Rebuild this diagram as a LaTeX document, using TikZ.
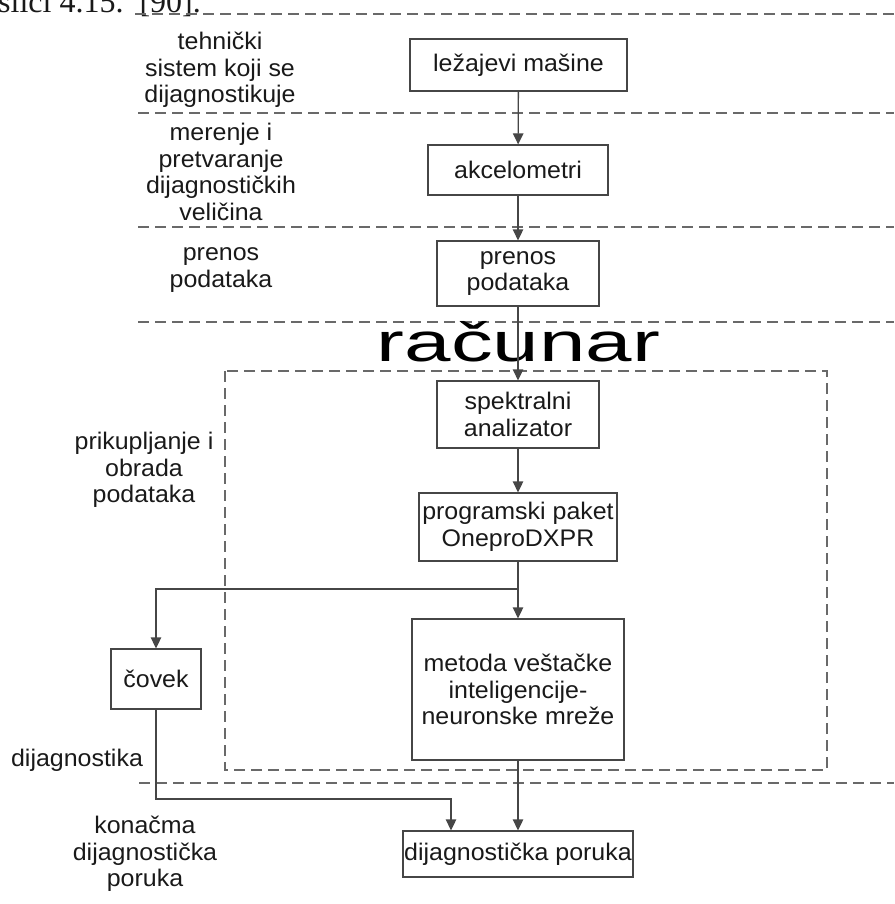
\documentclass[tikz,border=0pt]{standalone}
\usepackage{fontspec}
\setmainfont{Liberation Sans}[FakeStretch=1.04]
\newfontfamily\capfont{Liberation Serif}
\usetikzlibrary{arrows.meta}
\definecolor{ink}{RGB}{25,25,25}
\definecolor{frame}{RGB}{70,70,70}
\definecolor{guide}{RGB}{105,105,105}
\begin{document}
\begin{tikzpicture}[x=1pt,y=-1pt,
  every node/.style={font=\fontsize{24}{26.5}\selectfont, text=ink, align=center, inner sep=0pt},
  stage/.style={draw=frame, line width=1.3pt},
  flow/.style={draw=frame, line width=1.3pt, -{Triangle[length=11pt,width=10.5pt]}},
  link/.style={draw=frame, line width=1.3pt},
  sep/.style={draw=guide, line width=1.4pt, dash pattern=on 11pt off 6pt},
]
\useasboundingbox (0,0) rectangle (894,904);
\clip (0,0) rectangle (894,904);

% running text of the page above the figure
\node[anchor=base west, font=\capfont\fontsize{32}{32}\selectfont] (cap) at (-2,13) {slici 4.15.\ \ [90].};

% level separators
\draw[sep] (135,14) -- (894,14);
\draw[sep] (138,113) -- (894,113);
\draw[sep] (138,227) -- (894,227);
\draw[sep] (138,322) -- (894,322);
\draw[sep] (139,783) -- (894,783);
% computer boundary
\draw[sep] (225,371) rectangle (827,770);

% level labels
\node (l1) at (220,70) {tehnički\\sistem koji se\\dijagnostikuje};
\node (l2) at (221,172) {merenje i\\pretvaranje\\dijagnostičkih\\veličina};
\node (l3) at (221,270) {prenos\\podataka};
\node (l4) at (144,470) {prikupljanje i\\obrada\\podataka};
\node (l5) at (77,760) {dijagnostika};
\node (l6) at (145,854) {konačma\\dijagnostička\\poruka};

\node[anchor=base, font=\fontsize{55}{55}\selectfont, text=black] (pc) at (518.5,361) {\scalebox{1.46}[1]{računar}};

% stages
\node[stage, minimum width=217pt, minimum height=52pt] (b1) at (518.5,65) {ležajevi mašine};
\node[stage, minimum width=180pt, minimum height=50pt] (b2) at (518,170) {akcelometri};
\node[stage, minimum width=162pt, minimum height=65pt] (b3) at (518,273.5) {prenos\\podataka};
\node[stage, minimum width=162pt, minimum height=67pt] (b4) at (518,414.5) {spektralni\\analizator};
\node[stage, minimum width=198pt, minimum height=68pt] (b5) at (518,527) {programski paket\\OneproDXPR};
\node[stage, minimum width=212pt, minimum height=141pt] (b6) at (518,689.5) {metoda veštačke\\inteligencije-\\neuronske mreže};
\node[stage, minimum width=90pt, minimum height=60pt] (b7) at (156,679) {čovek};
\node[stage, minimum width=230pt, minimum height=46pt] (b8) at (518,854) {dijagnostička poruka};

% connectors
\coordinate (fork) at (518,589);
\coordinate (bend) at (156,799);
\coordinate (drop) at (451,799);
\draw[flow] (b1) -- (b2);
\draw[flow] (b2) -- (b3);
\draw[flow] (b3) -- (b4);
\draw[flow] (b4) -- (b5);
\draw[link] (b5) -- (fork);
\draw[flow] (fork) -- (b6);
\draw[flow] (fork) -| (b7);
\draw[flow] (b6) -- (b8);
\draw[flow] (b7) -- (bend) -- (drop) -- (drop |- b8.north);
\end{tikzpicture}
\end{document}
